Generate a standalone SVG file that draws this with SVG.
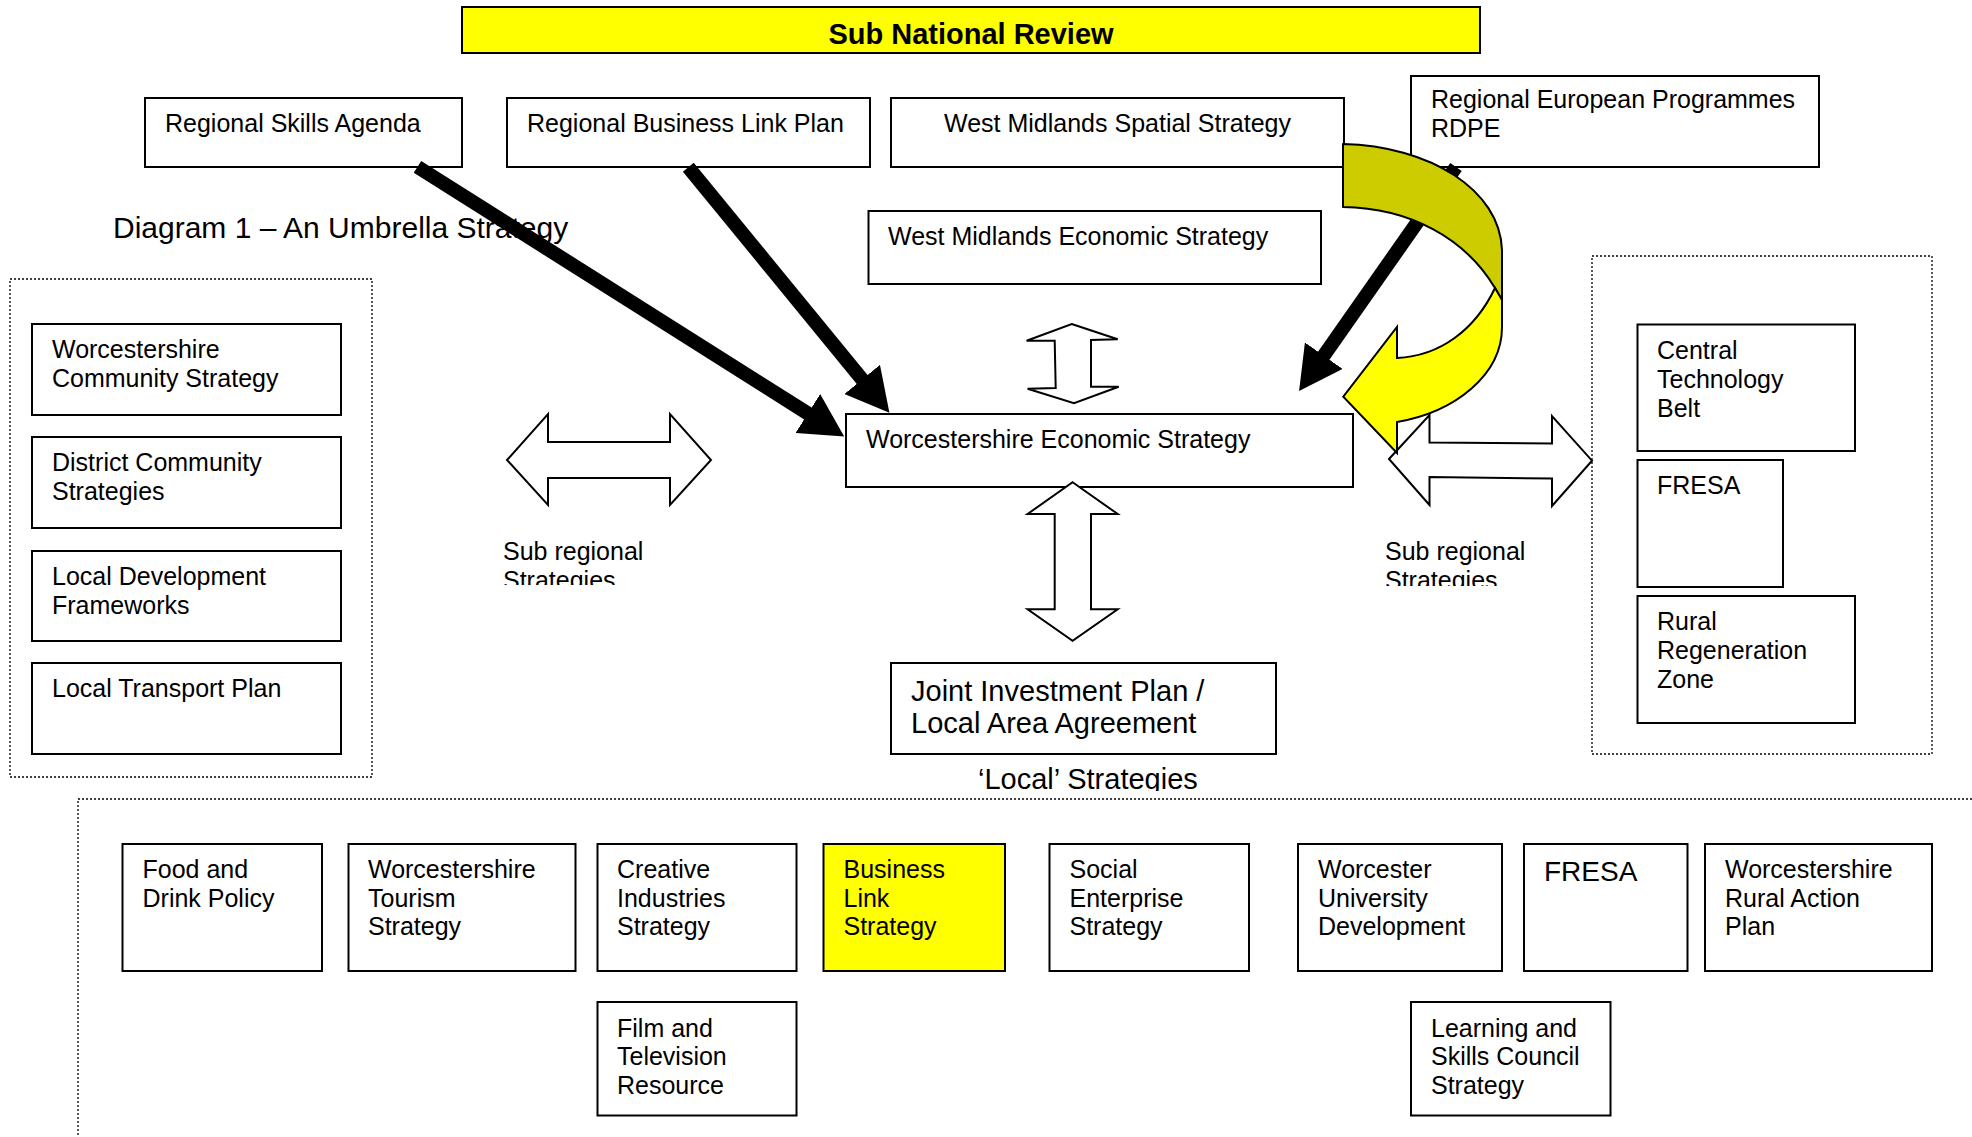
<svg xmlns="http://www.w3.org/2000/svg" width="1972" height="1137" viewBox="0 0 1972 1137">
<style>
.box{fill:#fff;stroke:#000;stroke-width:2}
.yel{fill:#ffff00;stroke:#000;stroke-width:2}
.dot{fill:none;stroke:#000;stroke-width:1.3;stroke-dasharray:2 2}
.t{font-family:"Liberation Sans",Arial,sans-serif;font-size:25px;fill:#000}
.big{font-size:29px}
.wa{fill:#fff;stroke:#000;stroke-width:2;stroke-linejoin:miter}
.blk{stroke:#000;stroke-width:14;stroke-linecap:butt;fill:none}
</style>
<defs>
<marker id="ah" markerUnits="userSpaceOnUse" viewBox="0 0 44 46" markerWidth="44" markerHeight="46" refX="1" refY="23" orient="auto"><path d="M0,0 L43,23 L0,46 z" fill="#000"/></marker>
<clipPath id="c1"><rect x="490" y="520" width="200" height="65"/></clipPath>
<clipPath id="c2"><rect x="1375" y="520" width="200" height="66"/></clipPath>
<clipPath id="c3"><rect x="960" y="750" width="320" height="41"/></clipPath>
</defs>
<rect width="1972" height="1137" fill="#fff"/>

<g id="containers">
<rect class="dot" x="10" y="279" width="362" height="498"/>
<rect class="dot" x="1592" y="256" width="340" height="498"/>
<rect class="dot" x="78" y="799" width="2000" height="500"/>
</g>

<g id="n-snr"><rect class="yel" x="462" y="7" width="1018" height="46"/><text class="t big" x="971" y="43.5" text-anchor="middle" font-weight="bold">Sub National Review</text></g>

<g id="n-rsa"><rect class="box" x="145" y="98" width="317" height="69"/><text class="t" x="165" y="132">Regional Skills Agenda</text></g>
<g id="n-rblp"><rect class="box" x="507" y="98" width="363" height="69"/><text class="t" x="527" y="132">Regional Business Link Plan</text></g>
<g id="n-wmss"><rect class="box" x="891" y="98" width="453" height="69"/><text class="t" x="1117.5" y="132" text-anchor="middle">West Midlands Spatial Strategy</text></g>
<g id="n-rep"><rect class="box" x="1411" y="76" width="408" height="91"/><text class="t" x="1431" y="108">Regional European Programmes</text><text class="t" x="1431" y="137">RDPE</text></g>
<g id="n-wmes"><rect class="box" x="868.5" y="211" width="452.5" height="73"/><text class="t" x="888" y="245">West Midlands Economic Strategy</text></g>

<text id="title" class="t" x="113" y="238" font-size="30px" style="font-size:30px">Diagram 1 – An Umbrella Strategy</text>

<g id="n-wcs"><rect class="box" x="32" y="324" width="309" height="91"/><text class="t" x="52" y="358">Worcestershire</text><text class="t" x="52" y="387">Community Strategy</text></g>
<g id="n-dcs"><rect class="box" x="32" y="437" width="309" height="91"/><text class="t" x="52" y="471">District Community</text><text class="t" x="52" y="500">Strategies</text></g>
<g id="n-ldf"><rect class="box" x="32" y="551" width="309" height="90"/><text class="t" x="52" y="585">Local Development</text><text class="t" x="52" y="614">Frameworks</text></g>
<g id="n-ltp"><rect class="box" x="32" y="663" width="309" height="91"/><text class="t" x="52" y="697">Local Transport Plan</text></g>

<g id="n-wes"><rect class="box" x="846" y="414" width="507" height="73"/><text class="t" x="866" y="448">Worcestershire Economic Strategy</text></g>

<g id="n-jip"><rect class="box" x="891" y="663" width="385" height="91"/><text class="t big" x="911" y="700.5">Joint Investment Plan /</text><text class="t big" x="911" y="732.5">Local Area Agreement</text></g>

<g id="n-ctb"><rect class="box" x="1637.5" y="324.5" width="217.5" height="126.5"/><text class="t" x="1657" y="359">Central</text><text class="t" x="1657" y="388">Technology</text><text class="t" x="1657" y="416.5">Belt</text></g>
<g id="n-fresa1"><rect class="box" x="1637.5" y="460" width="145.5" height="127"/><text class="t" x="1657" y="493.5">FRESA</text></g>
<g id="n-rrz"><rect class="box" x="1637.5" y="596" width="217.5" height="127"/><text class="t" x="1657" y="630">Rural</text><text class="t" x="1657" y="659">Regeneration</text><text class="t" x="1657" y="688">Zone</text></g>

<g id="labels">
<g clip-path="url(#c1)"><text class="t" x="503" y="559.5">Sub regional</text><text class="t" x="503" y="588.5">Strategies</text></g>
<g clip-path="url(#c2)"><text class="t" x="1385" y="560">Sub regional</text><text class="t" x="1385" y="589">Strategies</text></g>
<g clip-path="url(#c3)"><text class="t big" x="978" y="789">‘Local’ Strategies</text></g>
</g>

<g id="n-food"><rect class="box" x="122.5" y="844" width="199.5" height="127"/><text class="t" x="142.5" y="878">Food and</text><text class="t" x="142.5" y="906.5">Drink Policy</text></g>
<g id="n-wts"><rect class="box" x="348.5" y="844" width="227" height="127"/><text class="t" x="368" y="878">Worcestershire</text><text class="t" x="368" y="906.5">Tourism</text><text class="t" x="368" y="935">Strategy</text></g>
<g id="n-cis"><rect class="box" x="597.5" y="844" width="199" height="127"/><text class="t" x="617" y="878">Creative</text><text class="t" x="617" y="906.5">Industries</text><text class="t" x="617" y="935">Strategy</text></g>
<g id="n-bls"><rect class="yel" x="823.5" y="844" width="181.5" height="127"/><text class="t" x="843.5" y="878">Business</text><text class="t" x="843.5" y="906.5">Link</text><text class="t" x="843.5" y="935">Strategy</text></g>
<g id="n-ses"><rect class="box" x="1049.5" y="844" width="199.5" height="127"/><text class="t" x="1069.5" y="878">Social</text><text class="t" x="1069.5" y="906.5">Enterprise</text><text class="t" x="1069.5" y="935">Strategy</text></g>
<g id="n-wud"><rect class="box" x="1298" y="844" width="204" height="127"/><text class="t" x="1318" y="878">Worcester</text><text class="t" x="1318" y="906.5">University</text><text class="t" x="1318" y="935">Development</text></g>
<g id="n-fresa2"><rect class="box" x="1524" y="844" width="163.5" height="127"/><text class="t" x="1544" y="880.5" style="font-size:28px">FRESA</text></g>
<g id="n-wrap"><rect class="box" x="1705" y="844" width="227" height="127"/><text class="t" x="1725" y="878">Worcestershire</text><text class="t" x="1725" y="906.5">Rural Action</text><text class="t" x="1725" y="935">Plan</text></g>
<g id="n-ftr"><rect class="box" x="597.5" y="1002" width="199" height="113.5"/><text class="t" x="617" y="1036.5">Film and</text><text class="t" x="617" y="1065">Television</text><text class="t" x="617" y="1093.5">Resource</text></g>
<g id="n-lsc"><rect class="box" x="1411" y="1002" width="199.5" height="113.5"/><text class="t" x="1431" y="1036.5">Learning and</text><text class="t" x="1431" y="1065">Skills Council</text><text class="t" x="1431" y="1093.5">Strategy</text></g>

<g id="connectors">
<polygon class="wa" points="507,460 548,414 548,442 670,442 670,414 711,460 670,505 670,478 548,478 548,505"/>
<polygon class="wa" points="1389,459 1429.5,415 1429.5,442.4 1552,443.4 1552,416 1592,460.7 1552,506 1552,478.6 1429.5,477 1429.5,505"/>
<polygon class="wa" points="1072.6,482.3 1117.7,514 1091,514 1091,609.3 1117.7,609.3 1072.6,640.7 1027.6,609.3 1054.7,609.3 1054.7,514 1027.6,514"/>
<polygon class="wa" points="1071.7,324 1117.7,339.3 1091,340 1091,386.7 1118.7,386.7 1074,403.3 1027.6,388.7 1055.7,388 1054.7,340.7 1026.6,340.7"/>
<line class="blk" x1="1456" y1="167" x2="1323.2" y2="356.5" marker-end="url(#ah)"/>
<path d="M1343,144 C1430,146 1500,190 1502,250 L1502,300 L1495,288 C1465,238 1410,208 1343,207 Z" fill="#cccc00" stroke="#000" stroke-width="2" stroke-linejoin="round"/>
<path d="M1495,288 C1475,330 1440,356 1397,358 L1397,327 L1343.3,396.7 L1397,453 L1397,422 C1455,412 1502,375 1502,327 L1502,300 Z" fill="#ffff00" stroke="#000" stroke-width="2" stroke-linejoin="miter"/>
<line class="blk" x1="417.5" y1="166.8" x2="808.7" y2="414" marker-end="url(#ah)"/>
<line class="blk" x1="688.3" y1="167.2" x2="862.8" y2="380.2" marker-end="url(#ah)"/>
</g>
</svg>
